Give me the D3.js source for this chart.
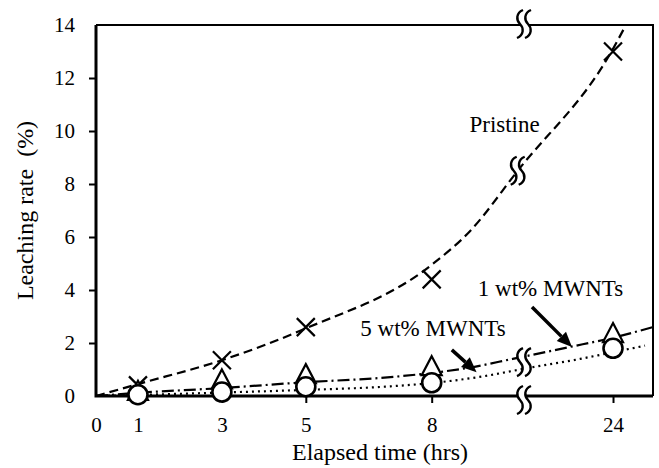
<!DOCTYPE html>
<meta charset="UTF-8">
<style>
body { margin: 0; background: #fff; }
svg text { font-family: "Liberation Serif", "Times New Roman", serif; fill: #000; }
.curve { fill: none; stroke: #000; stroke-width: 2.2; }
</style>
<body>
<script src="https://cdnjs.cloudflare.com/ajax/libs/d3/7.8.5/d3.min.js"></script>
<script>
// measured points (hours, leaching %)
const hours   = [1, 3, 5, 8, 24];
const pristine = [0.4, 1.35, 2.6, 4.4, 13.0];
const mwnt1    = [0.12, 0.55, 0.75, 1.05, 2.3];
const mwnt5    = [0.05, 0.15, 0.35, 0.5, 1.8];

// trend curves, [hours, %]
// (past the axis break the hour scale is compressed)
const pristineFit = [[0, 0], [1, 0.45], [3, 1.35], [5, 2.55], [8, 4.95], [8.9, 6.2], [10.05, 8.5], [24, 13.1], [26, 14]];
const mwnt1Fit = [[0, 0], [1, 0.12], [3, 0.3], [5, 0.52], [6.76, 0.68], [8, 0.87], [8.83, 1.05], [9.93, 1.4], [17.3, 1.85], [24, 2.2], [30.2, 2.6]];
const mwnt5Fit = [[0, 0], [1, 0.04], [3, 0.13], [5, 0.23], [6.76, 0.34], [8, 0.49], [9.14, 0.72], [10.67, 1.05], [18.9, 1.4], [24, 1.65], [28.96, 1.9]];

const xTicks = [0, 1, 3, 5, 8, 24];
const yTicks = [0, 2, 4, 6, 8, 10, 12, 14];
const breakHour = 10.2;

// labels and arrows, in data units
const labels = [
  {text: "Pristine", at: [8.9, 9.95]},
  {text: "1 wt% MWNTs", at: [9.1, 3.77]},
  {text: "5 wt% MWNTs", at: [6.3, 2.26]}
];
const arrows = [
  {from: [11.44, 3.36], to: [17.64, 1.85]},
  {from: [8.48, 1.74], to: [9.07, 0.9]}
];

const W = 659, H = 468;
const margin = {top: 25, right: 6, bottom: 72, left: 96};

const svg = d3.select("body").append("svg")
    .attr("width", W)
    .attr("height", H);

// piecewise x: linear hours up to the break, compressed after it
const x = d3.scaleLinear()
    .domain([0, breakHour, 30.2])
    .range([margin.left, 524, W - margin.right]);
const y = d3.scaleLinear()
    .domain([0, 14])
    .range([H - margin.bottom, margin.top]);

const x0 = x.range()[0], x1 = x.range()[2];
const y0 = y.range()[0], y1 = y.range()[1];

// axes
const yAxis = svg.append("g")
    .attr("transform", `translate(${x0},0)`)
    .call(d3.axisLeft(y).tickValues(yTicks).tickSize(7).tickPadding(14));
const xAxis = svg.append("g")
    .attr("transform", `translate(0,${y0})`)
    .call(d3.axisBottom(x).tickValues(xTicks).tickSize(7).tickPadding(14));

[yAxis, xAxis].forEach(g => {
  g.attr("font-family", "Liberation Serif").attr("font-size", 21);
  g.select(".domain").remove();
  g.selectAll("line").attr("stroke", "#000").attr("stroke-width", 2);
});
yAxis.selectAll(".tick").filter(d => d === 0 || d === 14).select("line").remove();
xAxis.selectAll(".tick").filter(d => d === 0).select("line").remove();

// frame
svg.append("path")
    .attr("d", `M${x0},${y1}H${x1}V${y0}`)
    .attr("fill", "none").attr("stroke", "#000").attr("stroke-width", 2);
svg.append("path")
    .attr("d", `M${x0},${y1}V${y0}H${x1}`)
    .attr("fill", "none").attr("stroke", "#000").attr("stroke-width", 3);

// axis titles
svg.append("text")
    .attr("x", 380).attr("y", 460)
    .attr("text-anchor", "middle")
    .attr("font-size", 24)
    .text("Elapsed time (hrs)");
svg.append("text")
    .attr("transform", `translate(33,${(y0 + y1) / 2}) rotate(-90)`)
    .attr("text-anchor", "middle")
    .attr("font-size", 24)
    .style("white-space", "pre")
    .text("Leaching rate  (%)");

// trend curves
const line = d3.line()
    .x(d => x(d[0]))
    .y(d => y(d[1]))
    .curve(d3.curveMonotoneX);

svg.append("path").attr("class", "curve")
    .attr("d", line(pristineFit))
    .attr("stroke-dasharray", "9,5");
svg.append("path").attr("class", "curve")
    .attr("d", line(mwnt1Fit))
    .attr("stroke-dasharray", "12,4,2,4");
svg.append("path").attr("class", "curve")
    .attr("d", line(mwnt5Fit))
    .attr("stroke-dasharray", "2,4");

// break marks
function breakMark(cx, cy) {
  const s = "C -4,-11 -4,-4 0,0 C 4,4 4,11 -3,14";
  const g = svg.append("g").attr("transform", `translate(${cx},${cy})`);
  g.append("path")
      .attr("d", "M -1,-14 C -8,-11 -8,-4 -4,0 C 0,4 0,11 -7,14 L 1,14 C 8,11 8,4 4,0 C 0,-4 0,-11 7,-14 Z")
      .attr("fill", "#fff");
  [-4, 4].forEach(dx => {
    g.append("path")
        .attr("d", `M ${dx + 3},-14 ` + s.replace(/(-?\d+),(-?\d+)/g, (m, a, b) => `${+a + dx},${b}`))
        .attr("fill", "none").attr("stroke", "#000").attr("stroke-width", 2.4);
  });
}
breakMark(x(breakHour), y1 - 1);
breakMark(x(breakHour), y0 + 4);
breakMark(x(10.05), y(8.5));
breakMark(x(breakHour), y(1.28));

// markers
const pts = (vals) => hours.map((h, i) => [x(h), y(vals[i])]);

svg.append("g").selectAll("path")
  .data(pts(pristine))
  .join("path")
    .attr("d", d => `M${d[0] - 9},${d[1] - 9}L${d[0] + 9},${d[1] + 9}M${d[0] - 9},${d[1] + 9}L${d[0] + 9},${d[1] - 9}`)
    .attr("stroke", "#000").attr("stroke-width", 2.2);

svg.append("g").selectAll("path")
  .data(pts(mwnt1))
  .join("path")
    .attr("d", d => `M${d[0]},${d[1] - 12}L${d[0] + 10},${d[1] + 7}L${d[0] - 10},${d[1] + 7}Z`)
    .attr("fill", "#fff").attr("stroke", "#000").attr("stroke-width", 2.2);

svg.append("g").selectAll("circle")
  .data(pts(mwnt5))
  .join("circle")
    .attr("cx", d => d[0]).attr("cy", d => d[1]).attr("r", 9.5)
    .attr("fill", "#fff").attr("stroke", "#000").attr("stroke-width", 2.6);

// labels
svg.append("g").selectAll("text")
  .data(labels)
  .join("text")
    .attr("x", d => x(d.at[0]))
    .attr("y", d => y(d.at[1]))
    .attr("font-size", 23)
    .text(d => d.text);

// arrows
arrows.forEach(a => {
  const [xa, ya] = [x(a.from[0]), y(a.from[1])];
  const [xb, yb] = [x(a.to[0]), y(a.to[1])];
  const ang = Math.atan2(yb - ya, xb - xa);
  const len = 15, half = 6.5;
  const bx = xb - len * Math.cos(ang), by = yb - len * Math.sin(ang);
  svg.append("line")
      .attr("x1", xa).attr("y1", ya).attr("x2", bx).attr("y2", by)
      .attr("stroke", "#000").attr("stroke-width", 3.5);
  svg.append("path")
      .attr("d", `M${xb},${yb}L${bx + half * Math.sin(ang)},${by - half * Math.cos(ang)}L${bx - half * Math.sin(ang)},${by + half * Math.cos(ang)}Z`)
      .attr("fill", "#000");
});
</script>
</body>
